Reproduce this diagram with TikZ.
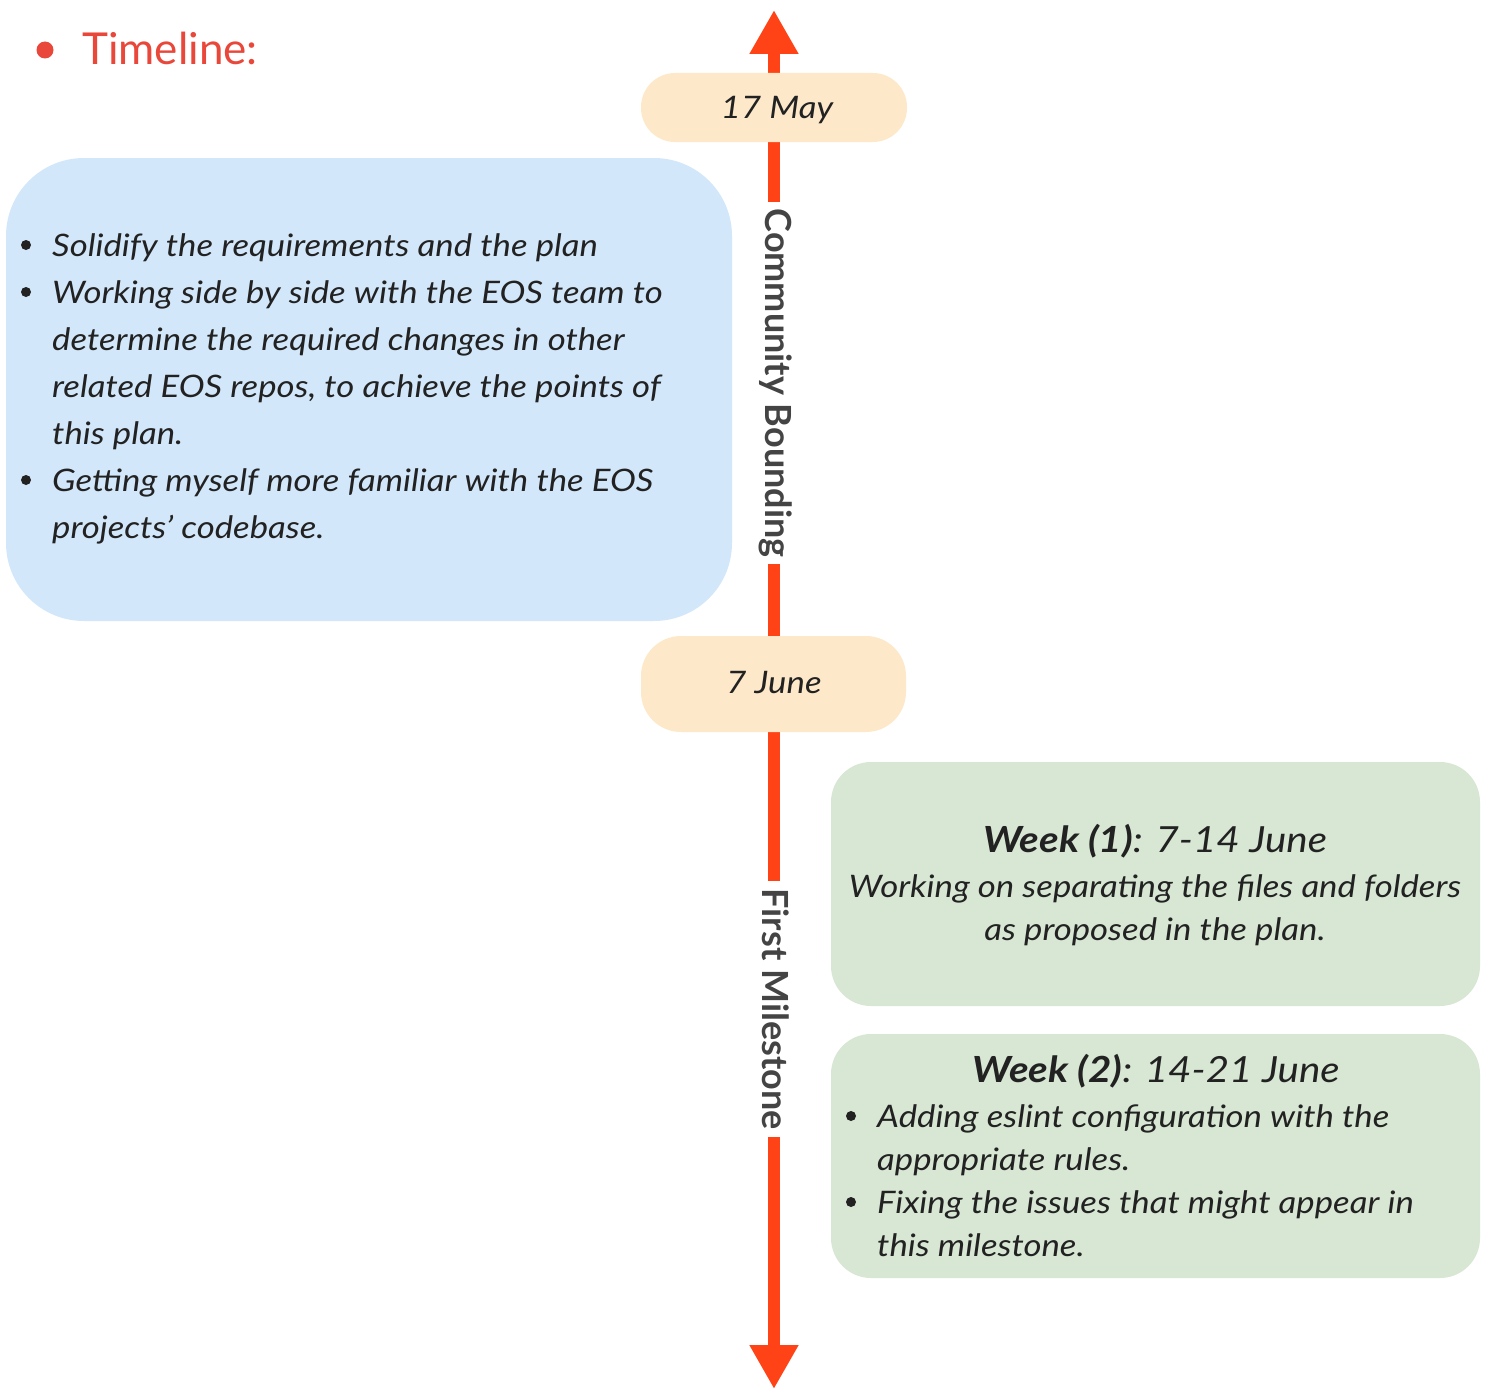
\documentclass[tikz,border=0pt]{standalone}
\usepackage{fontspec}
\setmainfont{Lato}
\newfontfamily\bodyfont{Lato}[FakeStretch=1.12]
\usetikzlibrary{arrows.meta}
\definecolor{axisred}{HTML}{FF4316}
\definecolor{titlered}{HTML}{E9473A}
\definecolor{pillfill}{HTML}{FDE9C9}
\definecolor{bluefill}{HTML}{D3E7FA}
\definecolor{greenfill}{HTML}{D7E7D3}
\definecolor{txt}{HTML}{222222}
\definecolor{lbl}{HTML}{444444}
\tikzset{
  axisline/.style={draw=axisred, line width=12pt, -{Triangle[width=46pt,length=44pt]}},
  pill/.style={fill=pillfill, rounded corners=#1},
  panel/.style={fill=#1},
  body/.style={inner sep=0pt, text=txt, font=\bodyfont\fontsize{31}{40}\selectfont\itshape},
  head/.style={inner sep=0pt, text=txt, font=\bodyfont\fontsize{36}{44}\selectfont\itshape},
  vlabel/.style={rotate=-90, fill=white, inner xsep=7pt, inner ysep=2pt, text=lbl, font=\fontsize{36}{40}\selectfont\bfseries},
  dot/.style={circle, fill=txt, inner sep=0pt, minimum size=10pt},
}
\begin{document}
\begin{tikzpicture}[x=1pt,y=-1pt]
\useasboundingbox (0,0) rectangle (1489,1389);
% title
\node[circle, fill=titlered, inner sep=0pt, minimum size=17pt] (tdot) at (45,50) {};
\node[anchor=base west, inner sep=0pt, text=titlered, font=\fontsize{44}{50}\selectfont] (title) at (82,65) {Timeline:};
% axis
\coordinate (ctr) at (774,700);
\coordinate (top) at (774,10);
\coordinate (bot) at (774,1389);
\draw[axisline] (ctr) -- (top);
\draw[axisline] (ctr) -- (bot);
% pills
\fill[pill=34pt] (641,73) rectangle (907,142);
\node[body, anchor=base] (may) at (777,118) {17 May};
\fill[pill=40pt] (641,636) rectangle (906,732);
\node[body, anchor=base] (june) at (774,693) {7 June};
% vertical labels
\node[vlabel] (cb) at (776,383) {Community Bounding};
\node[vlabel] (fm) at (776,1009) {First Milestone};
% blue panel
\fill[panel=bluefill, rounded corners=78pt] (6,158) rectangle (732,621);
\node[dot] (b1) at (26,245) {};
\node[body, anchor=base west] (l1) at (52,256) {Solidify the requirements and the plan};
\node[dot] (b2) at (26,292) {};
\node[body, anchor=base west] (l2) at (52,303) {Working side by side with the EOS team to};
\node[body, anchor=base west] (l3) at (52,350) {determine the required changes in other};
\node[body, anchor=base west] (l4) at (52,397) {related EOS repos, to achieve the points of};
\node[body, anchor=base west] (l5) at (52,444) {this plan.};
\node[dot] (b3) at (26,480) {};
\node[body, anchor=base west] (l6) at (52,491) {Getting myself more familiar with the EOS};
\node[body, anchor=base west] (l7) at (52,538) {projects’ codebase.};
% green panel 1
\fill[panel=greenfill, rounded corners=40pt] (831,762) rectangle (1480,1006);
\node[head, anchor=base] (w1) at (1155,852) {\bfseries Week (1)\mdseries: 7-14 June};
\node[body, anchor=base] (w1a) at (1155,897) {Working on separating the files and folders};
\node[body, anchor=base] (w1b) at (1155,940) {as proposed in the plan.};
% green panel 2
\fill[panel=greenfill, rounded corners=40pt] (831,1034) rectangle (1480,1278);
\node[head, anchor=base] (w2) at (1156,1082) {\bfseries Week (2)\mdseries: 14-21 June};
\node[dot] (g1) at (851,1116) {};
\node[body, anchor=base west] (w2a) at (877,1127) {Adding eslint configuration with the};
\node[body, anchor=base west] (w2b) at (877,1170) {appropriate rules.};
\node[dot] (g2) at (851,1202) {};
\node[body, anchor=base west] (w2c) at (877,1213) {Fixing the issues that might appear in};
\node[body, anchor=base west] (w2d) at (877,1256) {this milestone.};
\end{tikzpicture}
\end{document}
